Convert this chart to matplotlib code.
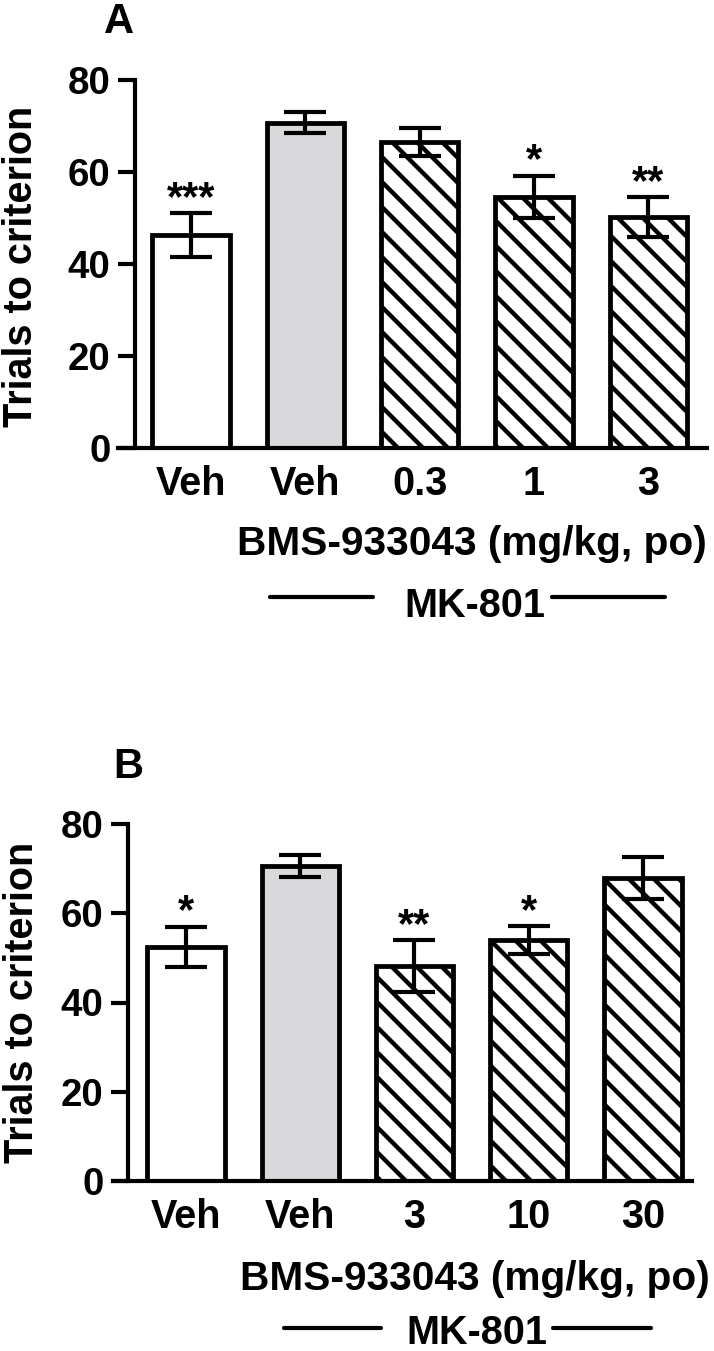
import numpy as np
import matplotlib
matplotlib.use("Agg")
import matplotlib.pyplot as plt
from matplotlib.lines import Line2D

plt.rcParams['font.family'] = ['Liberation Sans', 'DejaVu Sans']
plt.rcParams['font.weight'] = 'bold'
plt.rcParams['hatch.linewidth'] = 2.1

# panel A data
labels_a = ['Veh', 'Veh', '0.3', '1', '3']
means_a = [46.3, 70.7, 66.5, 54.6, 50.2]
sem_a = [4.7, 2.3, 3.1, 4.6, 4.3]
stars_a = ['***', '', '', '*', '**']

# panel B data
labels_b = ['Veh', 'Veh', '3', '10', '30']
means_b = [52.5, 70.6, 48.2, 54.0, 67.9]
sem_b = [4.5, 2.5, 5.8, 3.2, 4.7]
stars_b = ['*', '', '**', '*', '']

yticks = [0, 20, 40, 60, 80]
faces = ['white', '#d9d9db', 'white', 'white', 'white']
hatches = ['', '', r'\\', r'\\', r'\\']

W, H = 714, 1351
DPI = 150
fig = plt.figure(figsize=(W / DPI, H / DPI), dpi=DPI)


def fx(x):
    return x / W


def fy(y):
    return 1 - y / H


def panel(box, spine_px, xlim, labels, means, sem, stars):
    left, top, right, bottom = box
    ax = fig.add_axes([fx(left), fy(bottom), (right - left) / W, (bottom - top) / H])
    x = np.arange(len(labels))
    for i in range(len(labels)):
        ax.bar(x[i], means[i], width=0.675, color=faces[i], edgecolor='black',
               linewidth=2.3, hatch=hatches[i], zorder=2)
    ax.errorbar(x, means, yerr=sem, fmt='none', ecolor='black', elinewidth=2.0,
                capsize=10, capthick=2.0, zorder=3)
    for i, s in enumerate(stars):
        if s:
            ax.annotate(s, (x[i], means[i] + sem[i]), xytext=(0, 1.5),
                        textcoords='offset points', ha='center', va='baseline',
                        fontsize=20, fontweight='bold')
    ax.set_xlim(*xlim)
    ax.set_ylim(0, 80)
    ax.set_yticks(yticks)
    ax.set_xticks(x)
    ax.set_xticklabels(labels, fontsize=19, fontweight='bold')
    ax.tick_params(axis='x', length=0, pad=8)
    ax.tick_params(axis='y', length=8.2, width=2.0, pad=3.5, labelsize=18.5)
    for s in ['top', 'right']:
        ax.spines[s].set_visible(False)
    ax.spines['left'].set_position(('axes', (spine_px - left) / (right - left)))
    ax.spines['left'].set_bounds(0, 80)
    ax.spines['left'].set_linewidth(2.0)
    ax.spines['bottom'].set_linewidth(2.0)
    ax.patch.set_alpha(0)
    return ax


ax_a = panel((118, 80, 707, 448), 135, (-0.639, 4.514), labels_a, means_a, sem_a, stars_a)
ax_b = panel((113, 824, 692, 1181), 128, (-0.639, 4.429), labels_b, means_b, sem_b, stars_b)

# panel letters
fig.text(fx(119), fy(33), 'A', ha='center', va='baseline', fontsize=20, fontweight='bold')
fig.text(fx(128), fy(778), 'B', ha='center', va='baseline', fontsize=20, fontweight='bold')

# y labels
fig.text(fx(21), fy(266), 'Trials to criterion', rotation=90, ha='center', va='center',
         fontsize=19, fontweight='bold')
fig.text(fx(22), fy(1002), 'Trials to criterion', rotation=90, ha='center', va='center',
         fontsize=19, fontweight='bold')

# compound labels
fig.text(fx(472), fy(555), 'BMS-933043 (mg/kg, po)', ha='center', va='baseline',
         fontsize=19.5, fontweight='bold')
fig.text(fx(475), fy(1290), 'BMS-933043 (mg/kg, po)', ha='center', va='baseline',
         fontsize=19.5, fontweight='bold')

fig.text(fx(475), fy(617), 'MK-801', ha='center', va='baseline', fontsize=19, fontweight='bold')
fig.text(fx(477), fy(1344), 'MK-801', ha='center', va='baseline', fontsize=19, fontweight='bold')

for (x0, x1, y) in [(270, 373, 597), (552, 665, 597), (284, 381, 1328), (553, 651, 1328)]:
    fig.add_artist(Line2D([fx(x0), fx(x1)], [fy(y), fy(y)], color='black', linewidth=2.0,
                          solid_capstyle='round'))

fig.savefig('out.png', dpi=DPI)
